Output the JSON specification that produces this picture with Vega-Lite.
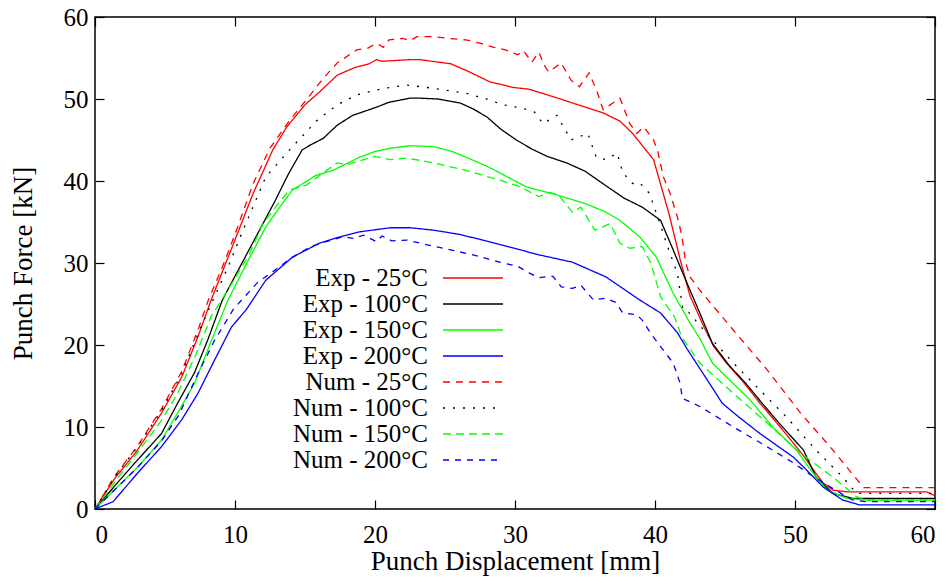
{
  "$schema": "https://vega.github.io/schema/vega-lite/v6.json",
  "width": 840,
  "height": 492,
  "autosize": "none",
  "padding": {"left": 95, "top": 17, "right": 17, "bottom": 70},
  "background": "white",
  "data": {"values": [
    {"s":"Exp - 25°C","x":0,"y":0},{"s":"Exp - 25°C","x":1.4,"y":3.7},{"s":"Exp - 25°C","x":3,"y":7.1},{"s":"Exp - 25°C","x":4.75,"y":11.7},{"s":"Exp - 25°C","x":6.2,"y":16.1},{"s":"Exp - 25°C","x":7.35,"y":21},{"s":"Exp - 25°C","x":8.3,"y":25.5},{"s":"Exp - 25°C","x":9.9,"y":32.4},{"s":"Exp - 25°C","x":11.3,"y":38.5},{"s":"Exp - 25°C","x":12.7,"y":43.8},{"s":"Exp - 25°C","x":13.7,"y":46.6},{"s":"Exp - 25°C","x":15,"y":49.3},{"s":"Exp - 25°C","x":16,"y":50.8},{"s":"Exp - 25°C","x":17.3,"y":52.9},{"s":"Exp - 25°C","x":18.5,"y":53.8},{"s":"Exp - 25°C","x":19.6,"y":54.3},{"s":"Exp - 25°C","x":20.1,"y":54.8},{"s":"Exp - 25°C","x":20.5,"y":54.6},{"s":"Exp - 25°C","x":22.5,"y":54.8},{"s":"Exp - 25°C","x":23.2,"y":54.8},{"s":"Exp - 25°C","x":25.4,"y":54.3},{"s":"Exp - 25°C","x":26.5,"y":53.5},{"s":"Exp - 25°C","x":28.2,"y":52.1},{"s":"Exp - 25°C","x":29.9,"y":51.4},{"s":"Exp - 25°C","x":31,"y":51.2},{"s":"Exp - 25°C","x":32.7,"y":50.3},{"s":"Exp - 25°C","x":34.5,"y":49.3},{"s":"Exp - 25°C","x":36.3,"y":48.3},{"s":"Exp - 25°C","x":37.5,"y":47.3},{"s":"Exp - 25°C","x":38.4,"y":45.8},{"s":"Exp - 25°C","x":39.9,"y":42.6},{"s":"Exp - 25°C","x":41,"y":36},{"s":"Exp - 25°C","x":41.8,"y":30.4},{"s":"Exp - 25°C","x":42.5,"y":26},{"s":"Exp - 25°C","x":43.5,"y":22.2},{"s":"Exp - 25°C","x":44.2,"y":19.8},{"s":"Exp - 25°C","x":45.1,"y":17.8},{"s":"Exp - 25°C","x":46.3,"y":15.5},{"s":"Exp - 25°C","x":47.5,"y":12.9},{"s":"Exp - 25°C","x":48.7,"y":10.5},{"s":"Exp - 25°C","x":49.9,"y":8},{"s":"Exp - 25°C","x":50.6,"y":6.5},{"s":"Exp - 25°C","x":51.3,"y":4.8},{"s":"Exp - 25°C","x":52,"y":3.2},{"s":"Exp - 25°C","x":52.7,"y":2.3},{"s":"Exp - 25°C","x":53.7,"y":2.1},{"s":"Exp - 25°C","x":59.4,"y":2.1},{"s":"Exp - 25°C","x":60,"y":1.6},

    {"s":"Exp - 100°C","x":0,"y":0},{"s":"Exp - 100°C","x":1.6,"y":3.2},{"s":"Exp - 100°C","x":3.05,"y":6},{"s":"Exp - 100°C","x":4.75,"y":9.2},{"s":"Exp - 100°C","x":5.9,"y":12.9},{"s":"Exp - 100°C","x":7.1,"y":16.6},{"s":"Exp - 100°C","x":8.05,"y":20.6},{"s":"Exp - 100°C","x":9.1,"y":25.5},{"s":"Exp - 100°C","x":11,"y":31.6},{"s":"Exp - 100°C","x":12.9,"y":37.7},{"s":"Exp - 100°C","x":13.8,"y":40.8},{"s":"Exp - 100°C","x":14.8,"y":43.8},{"s":"Exp - 100°C","x":15.4,"y":44.4},{"s":"Exp - 100°C","x":16.3,"y":45.2},{"s":"Exp - 100°C","x":17.3,"y":46.8},{"s":"Exp - 100°C","x":18.4,"y":48},{"s":"Exp - 100°C","x":20.1,"y":49},{"s":"Exp - 100°C","x":21,"y":49.6},{"s":"Exp - 100°C","x":22.5,"y":50.1},{"s":"Exp - 100°C","x":23.2,"y":50.1},{"s":"Exp - 100°C","x":24.5,"y":50},{"s":"Exp - 100°C","x":26.1,"y":49.5},{"s":"Exp - 100°C","x":27,"y":48.8},{"s":"Exp - 100°C","x":28,"y":47.8},{"s":"Exp - 100°C","x":29,"y":46.3},{"s":"Exp - 100°C","x":30.1,"y":45},{"s":"Exp - 100°C","x":31.2,"y":43.9},{"s":"Exp - 100°C","x":32.3,"y":43},{"s":"Exp - 100°C","x":33.7,"y":42.2},{"s":"Exp - 100°C","x":35,"y":41.2},{"s":"Exp - 100°C","x":36.6,"y":39.3},{"s":"Exp - 100°C","x":37.8,"y":37.9},{"s":"Exp - 100°C","x":39.1,"y":36.8},{"s":"Exp - 100°C","x":40.4,"y":35.2},{"s":"Exp - 100°C","x":41.2,"y":32},{"s":"Exp - 100°C","x":42,"y":28.7},{"s":"Exp - 100°C","x":43.2,"y":23.9},{"s":"Exp - 100°C","x":44.1,"y":20.2},{"s":"Exp - 100°C","x":45.3,"y":17.5},{"s":"Exp - 100°C","x":46.5,"y":15.3},{"s":"Exp - 100°C","x":47.7,"y":12.8},{"s":"Exp - 100°C","x":48.9,"y":10.4},{"s":"Exp - 100°C","x":50.6,"y":7.2},{"s":"Exp - 100°C","x":51.5,"y":3.9},{"s":"Exp - 100°C","x":52.7,"y":1.9},{"s":"Exp - 100°C","x":54.1,"y":1.3},{"s":"Exp - 100°C","x":60,"y":1.3},

    {"s":"Exp - 150°C","x":0,"y":0},{"s":"Exp - 150°C","x":1.6,"y":2.7},{"s":"Exp - 150°C","x":3.05,"y":5.1},{"s":"Exp - 150°C","x":4.75,"y":8.4},{"s":"Exp - 150°C","x":5.9,"y":11.7},{"s":"Exp - 150°C","x":7.1,"y":15.3},{"s":"Exp - 150°C","x":8.05,"y":19.4},{"s":"Exp - 150°C","x":9,"y":23.4},{"s":"Exp - 150°C","x":9.5,"y":25.5},{"s":"Exp - 150°C","x":11,"y":30.5},{"s":"Exp - 150°C","x":12.2,"y":34.4},{"s":"Exp - 150°C","x":13.4,"y":37.3},{"s":"Exp - 150°C","x":14.1,"y":38.9},{"s":"Exp - 150°C","x":15.8,"y":40.7},{"s":"Exp - 150°C","x":17,"y":41.3},{"s":"Exp - 150°C","x":18.9,"y":42.9},{"s":"Exp - 150°C","x":20,"y":43.6},{"s":"Exp - 150°C","x":21.1,"y":44},{"s":"Exp - 150°C","x":22.5,"y":44.3},{"s":"Exp - 150°C","x":24.2,"y":44.2},{"s":"Exp - 150°C","x":25.5,"y":43.6},{"s":"Exp - 150°C","x":26.5,"y":42.9},{"s":"Exp - 150°C","x":28,"y":41.8},{"s":"Exp - 150°C","x":28.9,"y":41},{"s":"Exp - 150°C","x":30.8,"y":39.3},{"s":"Exp - 150°C","x":33,"y":38.3},{"s":"Exp - 150°C","x":35.1,"y":37.2},{"s":"Exp - 150°C","x":36.5,"y":36.2},{"s":"Exp - 150°C","x":37.5,"y":35.2},{"s":"Exp - 150°C","x":38.9,"y":33.2},{"s":"Exp - 150°C","x":40.1,"y":30.7},{"s":"Exp - 150°C","x":41.3,"y":26.3},{"s":"Exp - 150°C","x":42.5,"y":22.7},{"s":"Exp - 150°C","x":43.2,"y":20.8},{"s":"Exp - 150°C","x":44.1,"y":17.8},{"s":"Exp - 150°C","x":45.1,"y":16.1},{"s":"Exp - 150°C","x":46.8,"y":13.3},{"s":"Exp - 150°C","x":48.4,"y":10},{"s":"Exp - 150°C","x":50.1,"y":7.2},{"s":"Exp - 150°C","x":51.1,"y":4.8},{"s":"Exp - 150°C","x":52.3,"y":2.3},{"s":"Exp - 150°C","x":53.7,"y":1.3},{"s":"Exp - 150°C","x":55,"y":1.1},{"s":"Exp - 150°C","x":60,"y":1.1},

    {"s":"Exp - 200°C","x":0,"y":0},{"s":"Exp - 200°C","x":1.3,"y":0.9},{"s":"Exp - 200°C","x":3.05,"y":4.4},{"s":"Exp - 200°C","x":4.75,"y":7.6},{"s":"Exp - 200°C","x":6.2,"y":10.9},{"s":"Exp - 200°C","x":7.35,"y":14.1},{"s":"Exp - 200°C","x":8.55,"y":18.2},{"s":"Exp - 200°C","x":9.75,"y":22.2},{"s":"Exp - 200°C","x":10.8,"y":24.3},{"s":"Exp - 200°C","x":12.2,"y":27.9},{"s":"Exp - 200°C","x":14.1,"y":30.7},{"s":"Exp - 200°C","x":16,"y":32.4},{"s":"Exp - 200°C","x":17.5,"y":33.2},{"s":"Exp - 200°C","x":18.9,"y":33.8},{"s":"Exp - 200°C","x":21.1,"y":34.3},{"s":"Exp - 200°C","x":22.5,"y":34.3},{"s":"Exp - 200°C","x":24.2,"y":34},{"s":"Exp - 200°C","x":26,"y":33.5},{"s":"Exp - 200°C","x":27.7,"y":32.8},{"s":"Exp - 200°C","x":29.5,"y":32},{"s":"Exp - 200°C","x":31.7,"y":31},{"s":"Exp - 200°C","x":34.1,"y":30.1},{"s":"Exp - 200°C","x":36.5,"y":28.3},{"s":"Exp - 200°C","x":38.9,"y":25.5},{"s":"Exp - 200°C","x":40.4,"y":23.9},{"s":"Exp - 200°C","x":41.6,"y":21.5},{"s":"Exp - 200°C","x":42.3,"y":19.5},{"s":"Exp - 200°C","x":43.9,"y":15.3},{"s":"Exp - 200°C","x":44.8,"y":12.9},{"s":"Exp - 200°C","x":46,"y":11.2},{"s":"Exp - 200°C","x":47.5,"y":9.2},{"s":"Exp - 200°C","x":49.9,"y":6.3},{"s":"Exp - 200°C","x":50.8,"y":4.8},{"s":"Exp - 200°C","x":52,"y":2.7},{"s":"Exp - 200°C","x":53.4,"y":1.1},{"s":"Exp - 200°C","x":54.6,"y":0.5},{"s":"Exp - 200°C","x":60,"y":0.5},

    {"s":"Num - 25°C","x":0,"y":0},{"s":"Num - 25°C","x":1.4,"y":4},{"s":"Num - 25°C","x":3,"y":7.6},{"s":"Num - 25°C","x":4.75,"y":12.2},{"s":"Num - 25°C","x":6.2,"y":16.8},{"s":"Num - 25°C","x":7.35,"y":21.8},{"s":"Num - 25°C","x":8.1,"y":25.5},{"s":"Num - 25°C","x":9.1,"y":29.5},{"s":"Num - 25°C","x":10,"y":33.5},{"s":"Num - 25°C","x":11.3,"y":39.7},{"s":"Num - 25°C","x":12.5,"y":44},{"s":"Num - 25°C","x":13.9,"y":47.4},{"s":"Num - 25°C","x":15.1,"y":49.9},{"s":"Num - 25°C","x":16.3,"y":52.5},{"s":"Num - 25°C","x":17.3,"y":54.4},{"s":"Num - 25°C","x":18.7,"y":56},{"s":"Num - 25°C","x":19.5,"y":56.2},{"s":"Num - 25°C","x":20.1,"y":56.8},{"s":"Num - 25°C","x":20.6,"y":56.3},{"s":"Num - 25°C","x":21,"y":57.2},{"s":"Num - 25°C","x":22,"y":57.4},{"s":"Num - 25°C","x":22.5,"y":57.1},{"s":"Num - 25°C","x":23,"y":57.6},{"s":"Num - 25°C","x":24.2,"y":57.6},{"s":"Num - 25°C","x":25.2,"y":57.4},{"s":"Num - 25°C","x":26.5,"y":57.2},{"s":"Num - 25°C","x":27.5,"y":56.8},{"s":"Num - 25°C","x":28.5,"y":56.3},{"s":"Num - 25°C","x":29.3,"y":56},{"s":"Num - 25°C","x":30.2,"y":55.4},{"s":"Num - 25°C","x":30.6,"y":55.9},{"s":"Num - 25°C","x":31.2,"y":54.5},{"s":"Num - 25°C","x":31.7,"y":55.7},{"s":"Num - 25°C","x":32.1,"y":54.1},{"s":"Num - 25°C","x":32.4,"y":53.3},{"s":"Num - 25°C","x":33.3,"y":54.4},{"s":"Num - 25°C","x":34,"y":52.3},{"s":"Num - 25°C","x":34.6,"y":51.5},{"s":"Num - 25°C","x":35.3,"y":53.2},{"s":"Num - 25°C","x":35.9,"y":50.7},{"s":"Num - 25°C","x":36.3,"y":48.7},{"s":"Num - 25°C","x":37.5,"y":50.1},{"s":"Num - 25°C","x":38.2,"y":47},{"s":"Num - 25°C","x":38.7,"y":45.8},{"s":"Num - 25°C","x":39.2,"y":46.6},{"s":"Num - 25°C","x":39.9,"y":45},{"s":"Num - 25°C","x":40.2,"y":43.6},{"s":"Num - 25°C","x":40.6,"y":40.5},{"s":"Num - 25°C","x":41.1,"y":38.4},{"s":"Num - 25°C","x":41.6,"y":35.6},{"s":"Num - 25°C","x":41.9,"y":33.5},{"s":"Num - 25°C","x":42.2,"y":30},{"s":"Num - 25°C","x":42.5,"y":28.3},{"s":"Num - 25°C","x":43.2,"y":26.7},{"s":"Num - 25°C","x":45.6,"y":21.8},{"s":"Num - 25°C","x":48,"y":17},{"s":"Num - 25°C","x":50.4,"y":11.7},{"s":"Num - 25°C","x":52.7,"y":7.2},{"s":"Num - 25°C","x":54.9,"y":2.6},{"s":"Num - 25°C","x":60,"y":2.6},

    {"s":"Num - 100°C","x":0,"y":0},{"s":"Num - 100°C","x":1.4,"y":3.9},{"s":"Num - 100°C","x":3,"y":7.5},{"s":"Num - 100°C","x":4.75,"y":12},{"s":"Num - 100°C","x":6.2,"y":16.5},{"s":"Num - 100°C","x":7.35,"y":21.3},{"s":"Num - 100°C","x":8.3,"y":25},{"s":"Num - 100°C","x":9.5,"y":29.5},{"s":"Num - 100°C","x":10.5,"y":33.7},{"s":"Num - 100°C","x":12.2,"y":40.5},{"s":"Num - 100°C","x":13.9,"y":43.8},{"s":"Num - 100°C","x":15.8,"y":47.3},{"s":"Num - 100°C","x":17.3,"y":49.3},{"s":"Num - 100°C","x":18.7,"y":50.5},{"s":"Num - 100°C","x":20.6,"y":51.3},{"s":"Num - 100°C","x":22.3,"y":51.7},{"s":"Num - 100°C","x":24.2,"y":51.3},{"s":"Num - 100°C","x":26.5,"y":50.7},{"s":"Num - 100°C","x":28,"y":50},{"s":"Num - 100°C","x":29.1,"y":49.3},{"s":"Num - 100°C","x":30.5,"y":48.9},{"s":"Num - 100°C","x":31.4,"y":48.4},{"s":"Num - 100°C","x":32,"y":47},{"s":"Num - 100°C","x":33,"y":48},{"s":"Num - 100°C","x":34,"y":45},{"s":"Num - 100°C","x":35.2,"y":45.8},{"s":"Num - 100°C","x":35.8,"y":42.9},{"s":"Num - 100°C","x":36.5,"y":42.6},{"s":"Num - 100°C","x":37.3,"y":43.4},{"s":"Num - 100°C","x":37.7,"y":41},{"s":"Num - 100°C","x":38.4,"y":39.7},{"s":"Num - 100°C","x":38.9,"y":39.8},{"s":"Num - 100°C","x":39.6,"y":38.5},{"s":"Num - 100°C","x":40.2,"y":35.6},{"s":"Num - 100°C","x":40.9,"y":32},{"s":"Num - 100°C","x":41.6,"y":28.7},{"s":"Num - 100°C","x":42,"y":24.3},{"s":"Num - 100°C","x":42.4,"y":24},{"s":"Num - 100°C","x":43.9,"y":21},{"s":"Num - 100°C","x":45.6,"y":17.8},{"s":"Num - 100°C","x":47.5,"y":14.5},{"s":"Num - 100°C","x":49.4,"y":11.2},{"s":"Num - 100°C","x":51.5,"y":7.2},{"s":"Num - 100°C","x":53.4,"y":3.9},{"s":"Num - 100°C","x":54.4,"y":1.9},{"s":"Num - 100°C","x":60,"y":1.9},

    {"s":"Num - 150°C","x":0,"y":0},{"s":"Num - 150°C","x":1.5,"y":3.5},{"s":"Num - 150°C","x":3,"y":6.8},{"s":"Num - 150°C","x":4.75,"y":10.8},{"s":"Num - 150°C","x":5.9,"y":14.1},{"s":"Num - 150°C","x":7.2,"y":18.8},{"s":"Num - 150°C","x":8.3,"y":23.5},{"s":"Num - 150°C","x":9.6,"y":27},{"s":"Num - 150°C","x":10.3,"y":29},{"s":"Num - 150°C","x":11,"y":31},{"s":"Num - 150°C","x":12,"y":34.8},{"s":"Num - 150°C","x":13.2,"y":37.5},{"s":"Num - 150°C","x":13.9,"y":38.9},{"s":"Num - 150°C","x":15.1,"y":39.5},{"s":"Num - 150°C","x":16.3,"y":41},{"s":"Num - 150°C","x":17.3,"y":42.2},{"s":"Num - 150°C","x":18,"y":42},{"s":"Num - 150°C","x":19.2,"y":42.6},{"s":"Num - 150°C","x":20,"y":43},{"s":"Num - 150°C","x":21.1,"y":42.6},{"s":"Num - 150°C","x":22.3,"y":42.8},{"s":"Num - 150°C","x":24.2,"y":42.2},{"s":"Num - 150°C","x":26.5,"y":41.3},{"s":"Num - 150°C","x":28.9,"y":40.1},{"s":"Num - 150°C","x":30.2,"y":39.4},{"s":"Num - 150°C","x":30.8,"y":38.9},{"s":"Num - 150°C","x":31.7,"y":38.1},{"s":"Num - 150°C","x":32.5,"y":38.6},{"s":"Num - 150°C","x":33.1,"y":38.3},{"s":"Num - 150°C","x":34.1,"y":36.2},{"s":"Num - 150°C","x":34.7,"y":36.8},{"s":"Num - 150°C","x":35.7,"y":34},{"s":"Num - 150°C","x":36.8,"y":34.8},{"s":"Num - 150°C","x":37.5,"y":32.4},{"s":"Num - 150°C","x":38.2,"y":31.8},{"s":"Num - 150°C","x":39.1,"y":32},{"s":"Num - 150°C","x":39.7,"y":30},{"s":"Num - 150°C","x":40.4,"y":25.9},{"s":"Num - 150°C","x":41.4,"y":23.4},{"s":"Num - 150°C","x":41.9,"y":21},{"s":"Num - 150°C","x":43.2,"y":17.8},{"s":"Num - 150°C","x":45.6,"y":14.1},{"s":"Num - 150°C","x":48,"y":10.5},{"s":"Num - 150°C","x":50.4,"y":6.8},{"s":"Num - 150°C","x":52.7,"y":3.9},{"s":"Num - 150°C","x":54.4,"y":1.5},{"s":"Num - 150°C","x":55,"y":1.1},{"s":"Num - 150°C","x":60,"y":1.1},

    {"s":"Num - 200°C","x":0,"y":0},{"s":"Num - 200°C","x":1.5,"y":2.5},{"s":"Num - 200°C","x":3,"y":5},{"s":"Num - 200°C","x":4.75,"y":8.3},{"s":"Num - 200°C","x":6,"y":11.5},{"s":"Num - 200°C","x":7.35,"y":16.5},{"s":"Num - 200°C","x":8.55,"y":20.6},{"s":"Num - 200°C","x":9.9,"y":24.4},{"s":"Num - 200°C","x":11.6,"y":27.6},{"s":"Num - 200°C","x":13,"y":29.3},{"s":"Num - 200°C","x":14,"y":30.6},{"s":"Num - 200°C","x":15.4,"y":32},{"s":"Num - 200°C","x":16.5,"y":32.6},{"s":"Num - 200°C","x":17.7,"y":33.2},{"s":"Num - 200°C","x":18.5,"y":33},{"s":"Num - 200°C","x":19.2,"y":33.4},{"s":"Num - 200°C","x":20.1,"y":32.6},{"s":"Num - 200°C","x":20.5,"y":33.3},{"s":"Num - 200°C","x":21.2,"y":32.7},{"s":"Num - 200°C","x":22.3,"y":32.8},{"s":"Num - 200°C","x":23.5,"y":32.3},{"s":"Num - 200°C","x":25.4,"y":31.6},{"s":"Num - 200°C","x":27,"y":31},{"s":"Num - 200°C","x":28.9,"y":30.1},{"s":"Num - 200°C","x":30.2,"y":29.6},{"s":"Num - 200°C","x":31,"y":28.8},{"s":"Num - 200°C","x":31.7,"y":28.2},{"s":"Num - 200°C","x":32.7,"y":28.4},{"s":"Num - 200°C","x":33.3,"y":27.1},{"s":"Num - 200°C","x":34.1,"y":26.9},{"s":"Num - 200°C","x":34.7,"y":27.3},{"s":"Num - 200°C","x":35.6,"y":25.5},{"s":"Num - 200°C","x":36.5,"y":25.7},{"s":"Num - 200°C","x":37.2,"y":25.2},{"s":"Num - 200°C","x":37.7,"y":23.9},{"s":"Num - 200°C","x":38.7,"y":23.7},{"s":"Num - 200°C","x":39.1,"y":23},{"s":"Num - 200°C","x":39.7,"y":21.4},{"s":"Num - 200°C","x":40.4,"y":19.8},{"s":"Num - 200°C","x":41.3,"y":17.8},{"s":"Num - 200°C","x":41.8,"y":15.3},{"s":"Num - 200°C","x":41.95,"y":13.5},{"s":"Num - 200°C","x":43.2,"y":12.5},{"s":"Num - 200°C","x":45.6,"y":10},{"s":"Num - 200°C","x":48,"y":7.6},{"s":"Num - 200°C","x":49.9,"y":5.6},{"s":"Num - 200°C","x":51,"y":4.3},{"s":"Num - 200°C","x":52.5,"y":2.7},{"s":"Num - 200°C","x":54.1,"y":1.1},{"s":"Num - 200°C","x":55,"y":0.9},{"s":"Num - 200°C","x":60,"y":0.9}
  ]},
  "resolve": {"axis": {"x": "independent", "y": "independent"}},
  "layer": [
    {
      "mark": {"type": "line", "strokeWidth": 1.3, "clip": true},
      "encoding": {
        "x": {"field": "x", "type": "quantitative",
              "scale": {"domain": [0, 60], "nice": false, "zero": false},
              "axis": {"orient": "bottom", "values": [0,10,20,30,40,50,60], "title": "Punch Displacement [mm]", "labelPadding": 22, "titlePadding": 1}},
        "y": {"field": "y", "type": "quantitative",
              "scale": {"domain": [0, 60], "nice": false, "zero": false},
              "axis": {"orient": "left", "values": [0,10,20,30,40,50,60], "title": "Punch Force [kN]", "labelPadding": 16, "titlePadding": 26}},
        "color": {"field": "s", "type": "nominal",
                  "scale": {"domain": ["Exp - 25°C","Exp - 100°C","Exp - 150°C","Exp - 200°C","Num - 25°C","Num - 100°C","Num - 150°C","Num - 200°C"],
                            "range": ["#ff0000","#000000","#00ff00","#0000ff","#ff0000","#000000","#00ff00","#0000ff"]},
                  "legend": {"title": null, "encode": {"entries": {"update": {"width": {"value": 70}}}}}},
        "strokeDash": {"field": "s", "type": "nominal",
                  "scale": {"domain": ["Exp - 25°C","Exp - 100°C","Exp - 150°C","Exp - 200°C","Num - 25°C","Num - 100°C","Num - 150°C","Num - 200°C"],
                            "range": [[1,0],[1,0],[1,0],[1,0],[7,6],[2,8],[8,5],[6,6]]},
                  "legend": {"title": null}}
      }
    },
    {
      "mark": {"type": "point", "opacity": 0},
      "encoding": {
        "x": {"field": "x", "type": "quantitative",
              "axis": {"orient": "top", "values": [0,10,20,30,40,50,60], "labels": false, "title": null}},
        "y": {"field": "y", "type": "quantitative",
              "axis": {"orient": "right", "values": [0,10,20,30,40,50,60], "labels": false, "title": null}}
      }
    }
  ],
  "config": {
    "font": "Liberation Serif, serif",
    "view": {"stroke": "#000000", "strokeWidth": 1.5},
    "axis": {
      "domain": false, "grid": false,
      "ticks": true, "tickSize": -9, "tickWidth": 1.2, "tickColor": "#000000",
      "labelFont": "Liberation Serif, serif", "labelFontSize": 25, "labelColor": "#000000",
      "titleFont": "Liberation Serif, serif", "titleFontSize": 27, "titleFontWeight": "normal", "titleColor": "#000000"
    },
    "legend": {
      "orient": "none", "legendX": 347, "legendY": 248,
      "symbolType": "stroke", "symbolSize": 3600, "symbolStrokeWidth": 1.3,
      "clipHeight": 26, "rowPadding": 0,
      "labelAlign": "right", "labelOffset": -76, "labelLimit": 0,
      "labelFont": "Liberation Serif, serif", "labelFontSize": 25, "labelColor": "#000000"
    }
  }
}
